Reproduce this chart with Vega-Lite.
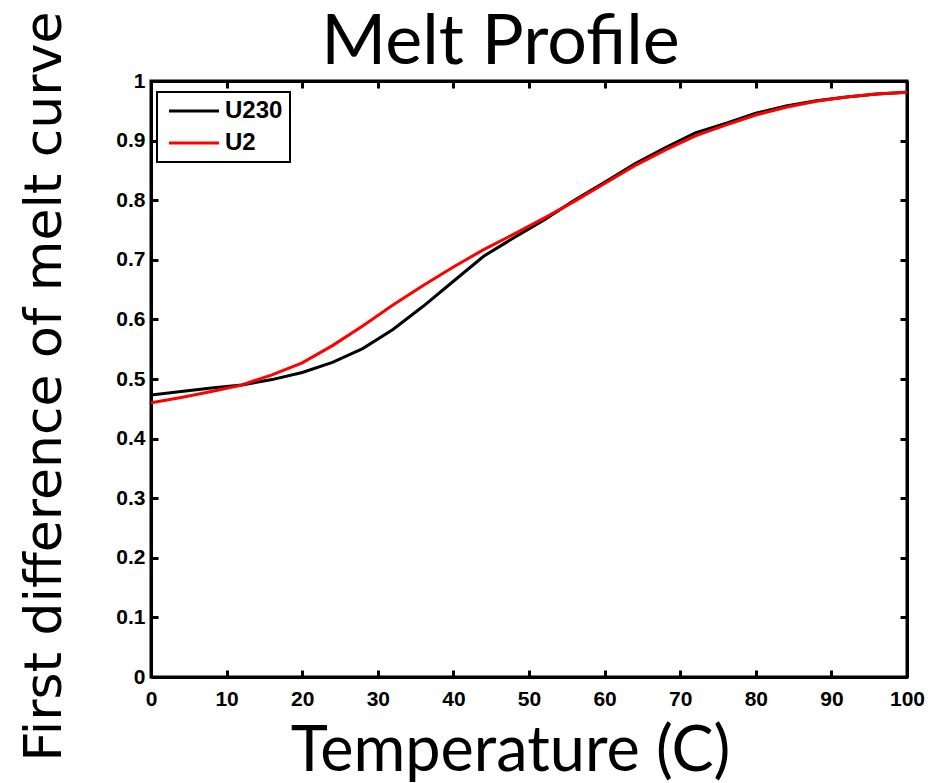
{
  "$schema": "https://vega.github.io/schema/vega-lite/v6.json",
  "width": 756,
  "height": 596,
  "autosize": {"type": "none"},
  "padding": {"left": 151, "top": 81, "right": 28, "bottom": 106},
  "background": "white",
  "config": {
    "view": {"stroke": "black", "strokeWidth": 3},
    "axis": {
      "domainColor": "black",
      "domainWidth": 3,
      "tickColor": "black",
      "tickWidth": 3,
      "tickSize": -7,
      "grid": false,
      "labelFont": "Liberation Sans",
      "labelFontWeight": "bold",
      "labelFontSize": 21,
      "labelColor": "black"
    }
  },
  "data": {
    "values": [
      {"T": 0, "v": 0.473, "s": "U230"},
      {"T": 4, "v": 0.479, "s": "U230"},
      {"T": 8, "v": 0.485, "s": "U230"},
      {"T": 12, "v": 0.490, "s": "U230"},
      {"T": 16, "v": 0.499, "s": "U230"},
      {"T": 20, "v": 0.511, "s": "U230"},
      {"T": 24, "v": 0.528, "s": "U230"},
      {"T": 28, "v": 0.551, "s": "U230"},
      {"T": 32, "v": 0.583, "s": "U230"},
      {"T": 36, "v": 0.622, "s": "U230"},
      {"T": 40, "v": 0.664, "s": "U230"},
      {"T": 44, "v": 0.706, "s": "U230"},
      {"T": 48, "v": 0.737, "s": "U230"},
      {"T": 52, "v": 0.767, "s": "U230"},
      {"T": 56, "v": 0.800, "s": "U230"},
      {"T": 60, "v": 0.830, "s": "U230"},
      {"T": 64, "v": 0.861, "s": "U230"},
      {"T": 68, "v": 0.888, "s": "U230"},
      {"T": 72, "v": 0.913, "s": "U230"},
      {"T": 76, "v": 0.929, "s": "U230"},
      {"T": 80, "v": 0.946, "s": "U230"},
      {"T": 84, "v": 0.958, "s": "U230"},
      {"T": 88, "v": 0.967, "s": "U230"},
      {"T": 92, "v": 0.973, "s": "U230"},
      {"T": 96, "v": 0.978, "s": "U230"},
      {"T": 100, "v": 0.981, "s": "U230"},
      {"T": 0, "v": 0.460, "s": "U2"},
      {"T": 4, "v": 0.469, "s": "U2"},
      {"T": 8, "v": 0.479, "s": "U2"},
      {"T": 12, "v": 0.490, "s": "U2"},
      {"T": 16, "v": 0.507, "s": "U2"},
      {"T": 20, "v": 0.527, "s": "U2"},
      {"T": 24, "v": 0.556, "s": "U2"},
      {"T": 28, "v": 0.589, "s": "U2"},
      {"T": 32, "v": 0.624, "s": "U2"},
      {"T": 36, "v": 0.657, "s": "U2"},
      {"T": 40, "v": 0.688, "s": "U2"},
      {"T": 44, "v": 0.717, "s": "U2"},
      {"T": 48, "v": 0.743, "s": "U2"},
      {"T": 52, "v": 0.770, "s": "U2"},
      {"T": 56, "v": 0.798, "s": "U2"},
      {"T": 60, "v": 0.828, "s": "U2"},
      {"T": 64, "v": 0.858, "s": "U2"},
      {"T": 68, "v": 0.884, "s": "U2"},
      {"T": 72, "v": 0.908, "s": "U2"},
      {"T": 76, "v": 0.926, "s": "U2"},
      {"T": 80, "v": 0.943, "s": "U2"},
      {"T": 84, "v": 0.956, "s": "U2"},
      {"T": 88, "v": 0.966, "s": "U2"},
      {"T": 92, "v": 0.973, "s": "U2"},
      {"T": 96, "v": 0.978, "s": "U2"},
      {"T": 100, "v": 0.981, "s": "U2"}
    ]
  },
  "resolve": {"axis": {"x": "independent", "y": "independent"}},
  "layer": [
    {
      "mark": {"type": "line", "strokeWidth": 3, "clip": true},
      "encoding": {
        "x": {
          "field": "T", "type": "quantitative",
          "scale": {"domain": [0, 100], "nice": false, "zero": false},
          "axis": {
            "orient": "bottom",
            "values": [0, 10, 20, 30, 40, 50, 60, 70, 80, 90, 100],
            "labelPadding": 18,
            "labelFlush": false,
            "title": "Temperature (C)",
            "titleFont": "Lato",
            "titleFontSize": 63,
            "titleFontWeight": "normal",
            "titleColor": "black",
            "titleAlign": "center",
            "titleBaseline": "alphabetic",
            "titleX": 359,
            "titleY": 93
          }
        },
        "y": {
          "field": "v", "type": "quantitative",
          "scale": {"domain": [0, 1], "nice": false, "zero": false},
          "axis": {
            "orient": "left",
            "values": [0, 0.1, 0.2, 0.3, 0.4, 0.5, 0.6, 0.7, 0.8, 0.9, 1],
            "labelPadding": 13,
            "labelFlush": false,
            "labelExpr": "datum.value == 0 ? '0' : datum.value == 1 ? '1' : format(datum.value, '.1f')",
            "title": "First difference of melt curve",
            "titleFont": "DejaVu Sans",
            "titleFontSize": 52,
            "titleFontWeight": "normal",
            "titleColor": "black",
            "titleAngle": -90,
            "titleAlign": "center",
            "titleBaseline": "alphabetic",
            "titleX": -91,
            "titleY": 305
          }
        },
        "color": {
          "field": "s", "type": "nominal",
          "scale": {"domain": ["U230", "U2"], "range": ["black", "#ff0000"]},
          "legend": {
            "title": null,
            "orient": "none",
            "legendX": 6,
            "legendY": 11,
            "strokeColor": "black",
            "fillColor": "white",
            "padding": 7,
            "symbolType": "M-5,0L5,0",
            "symbolSize": 100,
            "symbolStrokeWidth": 3,
            "symbolOffset": 18,
            "labelFont": "Liberation Sans",
            "labelFontWeight": "bold",
            "labelFontSize": 24,
            "labelColor": "black",
            "rowPadding": 8,
            "labelOffset": 19,
            "encode": {"legend": {"update": {"strokeWidth": {"value": 2}}}}
          }
        },
        "order": {"field": "T", "type": "quantitative"}
      }
    },
    {
      "mark": {"type": "point", "opacity": 0},
      "encoding": {
        "x": {
          "field": "T", "type": "quantitative",
          "scale": {"domain": [0, 100], "nice": false, "zero": false},
          "axis": {
            "orient": "top",
            "values": [0, 10, 20, 30, 40, 50, 60, 70, 80, 90, 100],
            "labels": false,
            "title": "Melt Profile",
            "titleFont": "Lato",
            "titleFontSize": 70,
            "titleFontWeight": "normal",
            "titleColor": "black",
            "titleAlign": "center",
            "titleBaseline": "alphabetic",
            "titleX": 349,
            "titleY": -18
          }
        },
        "y": {
          "field": "v", "type": "quantitative",
          "scale": {"domain": [0, 1], "nice": false, "zero": false},
          "axis": {"orient": "right", "values": [0, 0.1, 0.2, 0.3, 0.4, 0.5, 0.6, 0.7, 0.8, 0.9, 1], "labels": false, "title": null}
        }
      }
    }
  ]
}
